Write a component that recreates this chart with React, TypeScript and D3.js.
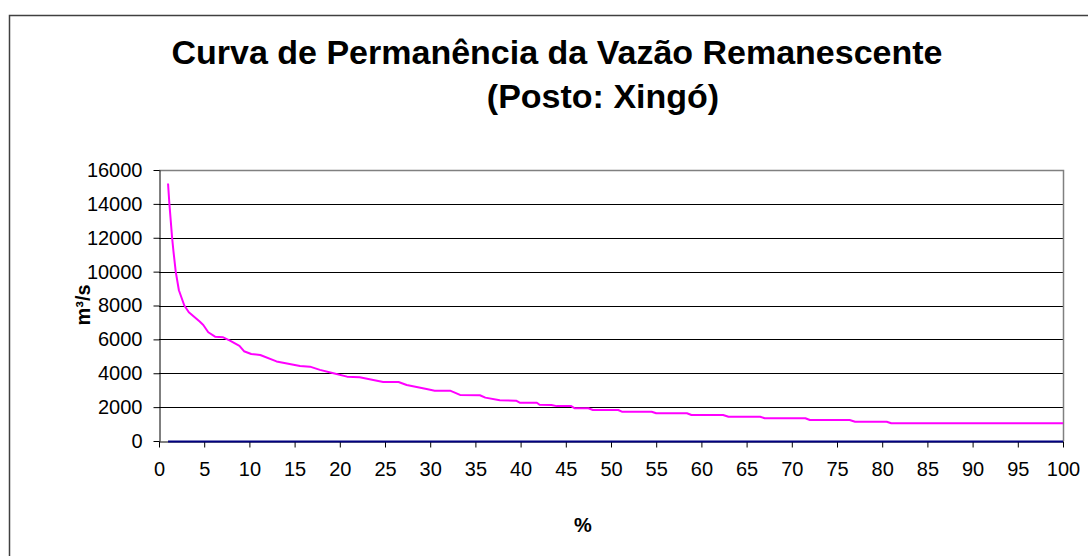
import { useEffect, useRef } from "react";
import * as d3 from "d3";

// permanence (%) and remaining flow (m³/s)
const pct = [
  1.0, 1.15, 1.45, 1.6, 1.85, 2.2, 2.8, 3.3, 4.5, 4.9, 5.45, 6.2, 7.1, 7.85,
  8.9, 9.4, 10.2, 11.2, 13.0, 15.6, 16.7, 17.8, 19.3, 20.8, 22.2, 24.8, 26.5,
  27.4, 29.6, 30.5, 32.2, 33.3, 35.5, 36.1, 37.7, 39.5, 39.9, 41.8, 42.1, 43.4,
  44.0, 45.6, 46.0, 47.5, 48.0, 50.8, 51.2, 54.5, 55.0, 58.4, 58.9, 62.4, 63.0,
  66.5, 67.0, 71.5, 72.0, 76.4, 77.0, 80.5, 81.0, 100,
];
const flow = [
  15200, 14000, 12000, 11200, 10000, 8900, 8000, 7600, 7050, 6850, 6420, 6160,
  6120, 5930, 5620, 5300, 5140, 5080, 4700, 4430, 4390, 4200, 4000, 3800, 3760,
  3480, 3480, 3310, 3070, 2970, 2970, 2720, 2700, 2560, 2400, 2380, 2260, 2260,
  2140, 2130, 2060, 2060, 1930, 1930, 1830, 1830, 1730, 1730, 1635, 1635, 1535,
  1535, 1435, 1435, 1340, 1340, 1240, 1240, 1140, 1140, 1045, 1045,
];
// second series: all zeros, from 1 to 100 %
const zeroPct = [1, 100];
const zeroFlow = [0, 0];

const yTicks = [0, 2000, 4000, 6000, 8000, 10000, 12000, 14000, 16000];
const xTicks = [0, 5, 10, 15, 20, 25, 30, 35, 40, 45, 50, 55, 60, 65, 70, 75, 80, 85, 90, 95, 100];

const App = () => {
  const ref = useRef<SVGSVGElement>(null);

  useEffect(() => {
    const W = 1088;
    const H = 556;
    const plot = { left: 159, top: 170, right: 1063, bottom: 441 };
    const font = "Arial, 'Liberation Sans', sans-serif";

    const svg = d3.select(ref.current);
    svg.selectAll("*").remove();
    svg.attr("width", W).attr("height", H);

    svg
      .append("rect")
      .attr("width", W)
      .attr("height", H)
      .attr("fill", "#fff");

    // outer chart frame (runs off the page right and bottom)
    svg
      .append("rect")
      .attr("x", 9.5)
      .attr("y", 15.5)
      .attr("width", W + 20)
      .attr("height", H + 20)
      .attr("fill", "none")
      .attr("stroke", "#404040")
      .attr("stroke-width", 1.5);

    const x = d3.scaleLinear().domain([0, 100]).range([plot.left, plot.right]);
    const y = d3.scaleLinear().domain([0, 16000]).range([plot.bottom, plot.top]);

    // gridlines
    svg
      .append("g")
      .selectAll("line")
      .data(yTicks.filter((t) => t > 0 && t < 16000))
      .join("line")
      .attr("x1", plot.left)
      .attr("x2", plot.right)
      .attr("y1", (d) => Math.round(y(d)) + 0.5)
      .attr("y2", (d) => Math.round(y(d)) + 0.5)
      .attr("stroke", "#000")
      .attr("stroke-width", 1);

    // plot area border top/right (gray)
    svg
      .append("path")
      .attr("d", `M${plot.left},${plot.top + 0.5}H${plot.right + 0.5}V${plot.bottom}`)
      .attr("fill", "none")
      .attr("stroke", "#808080")
      .attr("stroke-width", 1.5);

    // y axis
    const yAxis = svg
      .append("g")
      .attr("transform", `translate(${plot.left + 0.5},0)`)
      .call(
        d3
          .axisLeft(y)
          .tickValues(yTicks)
          .tickFormat(d3.format("d"))
          .tickSize(6)
          .tickSizeOuter(0)
          .tickPadding(11)
      );
    yAxis.select(".domain").attr("stroke", "#000");
    yAxis.selectAll("line").attr("stroke", "#000");
    yAxis
      .selectAll("text")
      .attr("font-family", font)
      .attr("font-size", 20)
      .attr("fill", "#000");

    // x axis
    const xAxis = svg
      .append("g")
      .attr("transform", `translate(0,${plot.bottom + 0.5})`)
      .call(
        d3
          .axisBottom(x)
          .tickValues(xTicks)
          .tickFormat(d3.format("d"))
          .tickSize(6)
          .tickSizeOuter(0)
          .tickPadding(14)
      );
    xAxis.select(".domain").attr("stroke", "#000");
    xAxis.selectAll("line").attr("stroke", "#000");
    xAxis
      .selectAll("text")
      .attr("font-family", font)
      .attr("font-size", 20)
      .attr("fill", "#000");

    // zero series (navy)
    const zero = zeroPct.map((p, i) => [p, zeroFlow[i]] as [number, number]);
    svg
      .append("path")
      .datum(zero)
      .attr("d", d3.line<[number, number]>().x((d) => x(d[0])).y((d) => y(d[1]) + 0.5))
      .attr("fill", "none")
      .attr("stroke", "#000080")
      .attr("stroke-width", 2);

    // remaining flow curve (magenta)
    const pts = pct.map((p, i) => [p, flow[i]] as [number, number]);
    svg
      .append("path")
      .datum(pts)
      .attr("d", d3.line<[number, number]>().x((d) => x(d[0])).y((d) => y(d[1])))
      .attr("fill", "none")
      .attr("stroke", "#ff00ff")
      .attr("stroke-width", 2)
      .attr("stroke-linejoin", "round");

    // titles
    const title = svg
      .append("text")
      .attr("text-anchor", "middle")
      .attr("font-family", font)
      .attr("font-weight", "bold")
      .attr("font-size", 34)
      .attr("fill", "#000");
    title.append("tspan").attr("x", 557).attr("y", 64).text("Curva de Permanência da Vazão Remanescente");
    title.append("tspan").attr("x", 603).attr("y", 108).text("(Posto: Xingó)");

    svg
      .append("text")
      .attr("transform", "translate(90,305) rotate(-90)")
      .attr("text-anchor", "middle")
      .attr("font-family", font)
      .attr("font-weight", "bold")
      .attr("font-size", 20)
      .text("m³/s");

    svg
      .append("text")
      .attr("x", 583)
      .attr("y", 532)
      .attr("text-anchor", "middle")
      .attr("font-family", font)
      .attr("font-weight", "bold")
      .attr("font-size", 20)
      .text("%");
  }, []);

  return (
    <div style={{ position: "fixed", left: 0, top: 0 }}>
      <svg ref={ref} style={{ display: "block" }}></svg>
    </div>
  );
};

export default App;
